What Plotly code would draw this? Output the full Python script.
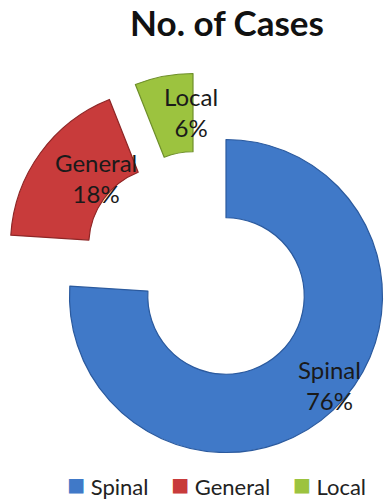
import plotly.graph_objects as go

# Data
categories = ["Spinal", "General", "Local"]
shares = [76, 18, 6]

# Styling
fill_colors = ["#4079C8", "#C83B3B", "#9CC33F"]
edge_colors = ["#2B5A9E", "#8E2626", "#6E8F2A"]
CLEAR = "rgba(0,0,0,0)"

W, H = 385, 501
CX, CY, R = 226, 296, 156.5          # ring centre and outer radius (px)
explode = [(0, 0), (-59, -51), (-33, -66)]   # per-slice shift (px)
label_pos = [(329, 385), (96, 178), (191, 112)]  # label centres (px)

fig = go.Figure()

# One ring per slice so each slice can be pulled out on its own offset
for i, (dx, dy) in enumerate(explode):
    cx, cy = CX + dx, CY + dy
    fig.add_trace(go.Pie(
        labels=categories,
        values=shares,
        sort=False,
        direction="clockwise",
        rotation=0,
        hole=0.5,
        domain=dict(x=[(cx - R) / W, (cx + R) / W],
                    y=[1 - (cy + R) / H, 1 - (cy - R) / H]),
        marker=dict(
            colors=[fill_colors[j] if j == i else CLEAR for j in range(len(categories))],
            line=dict(color=[edge_colors[j] if j == i else CLEAR for j in range(len(categories))],
                      width=[1.2 if j == i else 0 for j in range(len(categories))]),
        ),
        textinfo="none",
        hoverinfo="label+percent",
        showlegend=False,
    ))

total = sum(shares)
annotations = []
for cat, val, (px, py) in zip(categories, shares, label_pos):
    annotations.append(dict(
        x=px / W, y=1 - py / H, xref="paper", yref="paper",
        text=f"{cat}<br>{round(100 * val / total)}%",
        showarrow=False, xanchor="center", yanchor="middle",
        font=dict(family="Lato", size=24, color="#1a1a1a"),
    ))

# Legend row
gap = "\u00a0" * 4
legend_text = gap.join(
    f"<span style='color:{c};font-size:30px'>■</span>\u00a0{cat}"
    for cat, c in zip(categories, fill_colors)
)
annotations.append(dict(
    x=216 / W, y=1 - 483 / H, xref="paper", yref="paper",
    text=legend_text, showarrow=False, xanchor="center", yanchor="middle",
    font=dict(family="Lato", size=22, color="#222222"),
))

fig.update_layout(
    width=W, height=H,
    margin=dict(l=0, r=0, t=0, b=0),
    paper_bgcolor="white",
    plot_bgcolor="white",
    title=dict(text="<b>No. of Cases</b>", x=227 / W, xanchor="center",
               y=1 - 24 / H, yanchor="middle",
               font=dict(family="Lato", size=35, color="#111111")),
    annotations=annotations,
)

fig.write_html("out.html")
